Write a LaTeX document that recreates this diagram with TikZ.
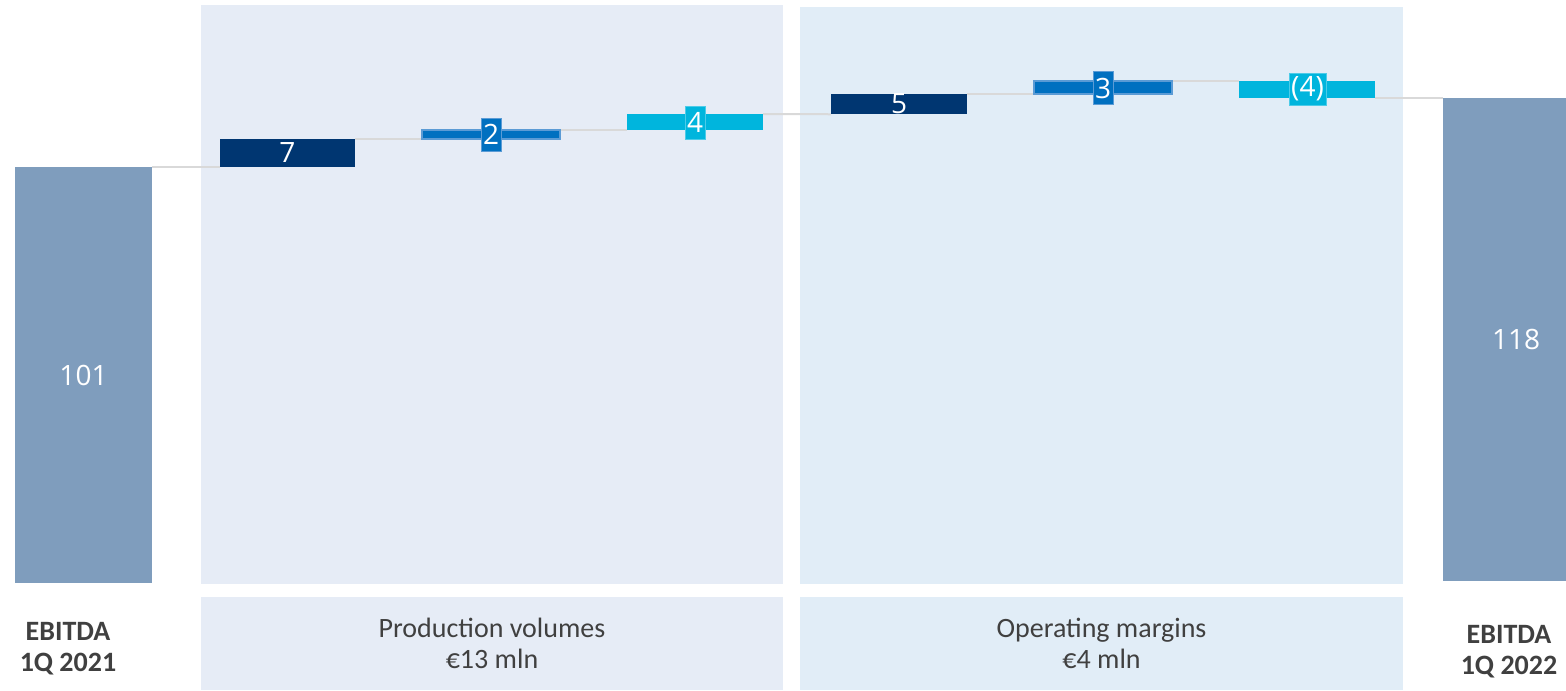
\documentclass[tikz,border=0pt]{standalone}
\usepackage{fontspec}
\setmainfont{Carlito}
\newfontfamily\numfont{Open Sans}
\definecolor{sidebar}{HTML}{7F9DBD}
\definecolor{panelA}{HTML}{E6ECF6}
\definecolor{panelB}{HTML}{E1EDF7}
\definecolor{navy}{HTML}{003671}
\definecolor{midblue}{HTML}{0070C0}
\definecolor{midedge}{HTML}{5B9BD5}
\definecolor{cyanbar}{HTML}{00B5DD}
\definecolor{cyanedge}{HTML}{4CCBE8}
\definecolor{labeltext}{HTML}{404040}
\definecolor{linkgray}{HTML}{D9D9D9}
\pgfdeclarelayer{panels}
\pgfdeclarelayer{links}
\pgfsetlayers{panels,links,main}
\begin{document}
\begin{tikzpicture}[x=0.5pt,y=-0.5pt,
  box/.style={anchor=north west,inner sep=0pt,outer sep=0pt,draw=none},
  valbox/.style={inner sep=0pt,outer sep=0pt,text=white,font=\numfont\fontsize{14pt}{16pt}\selectfont},
  catlabel/.style={inner sep=0pt,align=center,text=labeltext,font=\fontsize{14pt}{15.5pt}\selectfont},
  endlabel/.style={inner sep=0pt,align=center,text=labeltext,font=\bfseries\fontsize{14pt}{15.5pt}\selectfont},
  link/.style={draw=linkgray,line width=1pt}]
\useasboundingbox (0,0) rectangle (1566,690);
% panels
\begin{pgfonlayer}{panels}
\node[box,fill=panelA,minimum width=291pt,minimum height=289.5pt] (p1) at (201,5) {};
\node[box,fill=panelB,minimum width=301.5pt,minimum height=288.5pt] (p2) at (800,7) {};
\node[box,fill=panelA,minimum width=291pt,minimum height=46.5pt] (q1) at (201,597) {};
\node[box,fill=panelB,minimum width=301.5pt,minimum height=46.5pt] (q2) at (800,597) {};
\end{pgfonlayer}
\node[catlabel] (t1) at (q1.center) {Production volumes\\€13 mln};
\node[catlabel] (t2) at (q2.center) {Operating margins\\€4 mln};
\node[endlabel] (e1) at (68,649) {EBITDA\\1Q 2021};
\node[endlabel] (e2) at (1509,652) {EBITDA\\1Q 2022};
% end bars
\node[box,fill=sidebar,minimum width=68.5pt,minimum height=208pt,valbox,anchor=north west] (b101) at (15,167) {101};
\node[box,fill=sidebar,minimum width=73pt,minimum height=241.5pt,valbox,anchor=north west] (b118) at (1443,98) {118};
% step bars
\node[valbox,box,fill=navy,minimum width=67.5pt,minimum height=14pt] (d7) at (220,139) {7};
\node[box,fill=midblue,draw=midedge,line width=0.6pt,minimum width=69pt,minimum height=4.5pt] (d2) at (422,130) {};
\node[box,fill=cyanbar,minimum width=68pt,minimum height=8pt] (d4) at (627,114) {};
\node[valbox,box,fill=navy,minimum width=68pt,minimum height=10pt] (d5) at (831,94) {5};
\node[box,fill=midblue,draw=midedge,line width=0.6pt,minimum width=69pt,minimum height=6.5pt] (d3) at (1034,81) {};
\node[box,fill=cyanbar,minimum width=68pt,minimum height=8.5pt] (dm4) at (1239,81) {};
% value tags
\node[valbox,fill=midblue,draw=midedge,line width=0.3pt,minimum width=10pt,minimum height=16.5pt] (k2) at (491,134.5) {2};
\node[valbox,fill=cyanbar,draw=cyanedge,line width=0.3pt,minimum width=10pt,minimum height=16.5pt] (k4) at (695,122.5) {4};
\node[valbox,fill=midblue,draw=midedge,line width=0.3pt,minimum width=10pt,minimum height=16.5pt] (k3) at (1103,88) {3};
\node[valbox,fill=cyanbar,draw=cyanedge,line width=0.3pt,minimum width=18.5pt,minimum height=16pt] (km4) at (1307.5,89) {(4)};
% connectors
\begin{pgfonlayer}{links}
\draw[link] (b101.north east) -- (d7.south west);
\draw[link] (d7.north east) -- (d2.south west);
\draw[link] (d2.north east) -- (d4.south west);
\draw[link] (d4.north east) -- (d5.south west);
\draw[link] (d5.north east) -- (d3.south west);
\draw[link] (d3.north east) -- (dm4.north west);
\draw[link] (dm4.south east) -- (b118.north west);
\end{pgfonlayer}
\end{tikzpicture}
\end{document}
